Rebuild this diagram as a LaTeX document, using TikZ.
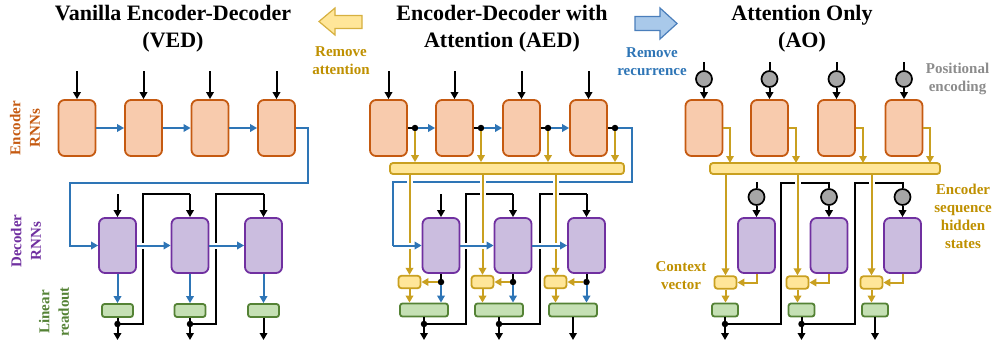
\documentclass[tikz,border=0pt]{standalone}
\usepackage{fontspec}
\setmainfont{Liberation Serif}
\usetikzlibrary{arrows.meta}
\definecolor{encF}{HTML}{F8CBAD}
\definecolor{encD}{HTML}{C55A11}
\definecolor{decF}{HTML}{CBBDDF}
\definecolor{decD}{HTML}{7030A0}
\definecolor{roF}{HTML}{C5E0B4}
\definecolor{roD}{HTML}{548235}
\definecolor{yF}{HTML}{FFE699}
\definecolor{yD}{HTML}{C9A020}
\definecolor{yT}{HTML}{BF9000}
\definecolor{bl}{HTML}{2E75B6}
\definecolor{blF}{HTML}{A9C9EA}
\definecolor{blD}{HTML}{4A7EBB}
\definecolor{yaD}{HTML}{D6B040}
\definecolor{peF}{HTML}{A6A6A6}
\definecolor{grT}{HTML}{8C8C8C}
\begin{document}
\begin{tikzpicture}[x=1pt,y=-1pt,
  box/.style={rectangle, line width=1.8pt, inner sep=0pt},
  encbox/.style={box, rounded corners=6pt, draw=encD, fill=encF, minimum width=37pt, minimum height=56pt},
  decbox/.style={box, rounded corners=6pt, draw=decD, fill=decF, minimum width=37pt, minimum height=55pt},
  robox/.style={box, rounded corners=2.5pt, draw=roD, fill=roF, minimum height=13pt},
  ctxbox/.style={box, rounded corners=3pt, draw=yD, fill=yF, minimum width=22pt, minimum height=12.5pt},
  barbox/.style={box, rounded corners=3pt, draw=yD, fill=yF, minimum height=11pt},
  pecirc/.style={circle, draw=black, fill=peF, line width=1.7pt, minimum size=16pt, inner sep=0pt},
  jdot/.style={circle, fill=black, minimum size=6.5pt, inner sep=0pt},
  conn/.style={line width=2pt},
  arr/.style={conn, -{Triangle[length=7pt,width=7.5pt]}},
  blk/.style={arr, draw=black},
  blu/.style={arr, draw=bl},
  yel/.style={arr, draw=yD},
  gap/.style={draw=white, line width=6pt, shorten <=4pt, shorten >=4pt},
  title/.style={align=center, font=\fontsize{22}{27}\selectfont\bfseries, inner sep=0pt},
  lbl/.style={align=center, font=\fontsize{15}{18}\selectfont\bfseries, inner sep=0pt},
  rlbl/.style={lbl, rotate=90, font=\fontsize{15}{19.5}\selectfont\bfseries}
]
\useasboundingbox (0,0) rectangle (992,343);

% ---------- titles and labels ----------
\node[title] (tved) at (173,29) {Vanilla Encoder-Decoder\\(VED)};
\node[title] (taed) at (502,29) {Encoder-Decoder with\\Attention (AED)};
\node[title] (tao) at (802,29) {Attention Only\\(AO)};
\node[lbl, text=yT] (lra) at (341,61) {Remove\\attention};
\node[lbl, text=bl] (lrr) at (652,62) {Remove\\recurrence};
\node[rlbl, text=encD] (lenc) at (25,128) {Encoder\\RNNs};
\node[rlbl, text=decD] (ldec) at (26,241) {Decoder\\RNNs};
\node[rlbl, text=roD] (llin) at (54,312) {Linear\\readout};
\node[lbl, text=grT] (lpos) at (957.5,79) {Positional\\encoding};
\node[lbl, text=yT] (lctx) at (681,275.5) {Context\\vector};
\node[lbl, text=yT] (lesh) at (963,216.5) {Encoder\\sequence\\hidden\\states};

% big arrows
\draw[line width=1.2pt, draw=yaD, fill=yF, line join=miter]
  (319,21.5) -- (335,8) -- (335,15.5) -- (362,15.5) -- (362,28.5) -- (335,28.5) -- (335,35) -- cycle;
\draw[line width=1.2pt, draw=blD, fill=blF, line join=miter]
  (677,23.5) -- (660,8) -- (660,16.5) -- (635,16.5) -- (635,30.5) -- (660,30.5) -- (660,39) -- cycle;

% ================= VED =================
\node[encbox] (ve1) at (77,128) {};
\node[encbox] (ve2) at (143.5,128) {};
\node[encbox] (ve3) at (210,128) {};
\node[encbox] (ve4) at (276.5,128) {};
\node[decbox] (vd1) at (117.5,245.5) {};
\node[decbox] (vd2) at (190,245.5) {};
\node[decbox] (vd3) at (263.5,245.5) {};
\node[robox, minimum width=31pt] (vr1) at (117.5,310.5) {};
\node[robox, minimum width=31pt] (vr2) at (190,310.5) {};
\node[robox, minimum width=31pt] (vr3) at (263.5,310.5) {};
\foreach \i/\x in {1/77,2/143.5,3/210,4/276.5} { \coordinate (vi\i) at (\x,71); }
\coordinate (vdi1) at (117.5,194);
\coordinate (vc1) at (308,183);
\coordinate (vc2) at (70,183);
\coordinate (vf1) at (143,194);
\coordinate (vf2) at (216,194);
\foreach \i/\x in {1/117.5,2/190,3/263.5} { \coordinate (vo\i) at (\x,340); }

% ================= AED =================
\node[encbox] (ae1) at (388.5,128) {};
\node[encbox] (ae2) at (454.5,128) {};
\node[encbox] (ae3) at (521.5,128) {};
\node[encbox] (ae4) at (588.5,128) {};
\node[barbox, minimum width=234pt] (abar) at (507,168.5) {};
\node[decbox] (ad1) at (441,245.5) {};
\node[decbox] (ad2) at (513,245.5) {};
\node[decbox] (ad3) at (586.5,245.5) {};
\node[ctxbox] (ax1) at (409.5,282) {};
\node[ctxbox] (ax2) at (482.5,282) {};
\node[ctxbox] (ax3) at (555.5,282) {};
\node[robox, minimum width=48pt] (ar1) at (424,310) {};
\node[robox, minimum width=48pt] (ar2) at (499,310) {};
\node[robox, minimum width=48pt] (ar3) at (573,310) {};
\foreach \i/\x in {1/388.5,2/454.5,3/521.5,4/588.5} { \coordinate (ai\i) at (\x,71); }
\coordinate (adi1) at (441,194);
\coordinate (ac1) at (632,182);
\coordinate (ac2) at (393,182);
\coordinate (ac3) at (393,245.5);
\coordinate (af1) at (466,194);
\coordinate (af2) at (540,194);
\foreach \i/\x in {1/424,2/499,3/573} { \coordinate (ao\i) at (\x,340); }

% ================= AO =================
\node[encbox] (oe1) at (704,128) {};
\node[encbox] (oe2) at (769.5,128) {};
\node[encbox] (oe3) at (836.5,128) {};
\node[encbox] (oe4) at (904,128) {};
\node[pecirc] (op1) at (704,79) {};
\node[pecirc] (op2) at (769.5,79) {};
\node[pecirc] (op3) at (836.5,79) {};
\node[pecirc] (op4) at (904,79) {};
\node[barbox, minimum width=230pt] (obar) at (825,168.5) {};
\node[pecirc] (oq1) at (756.5,197) {};
\node[pecirc] (oq2) at (829,197) {};
\node[pecirc] (oq3) at (902.5,197) {};
\node[decbox] (od1) at (756.5,245.5) {};
\node[decbox] (od2) at (829,245.5) {};
\node[decbox] (od3) at (902.5,245.5) {};
\node[ctxbox] (ox1) at (725.5,282.5) {};
\node[ctxbox] (ox2) at (797.5,282.5) {};
\node[ctxbox] (ox3) at (871.5,282.5) {};
\node[robox, minimum width=26pt] (or1) at (725,310) {};
\node[robox, minimum width=26pt] (or2) at (801.5,310) {};
\node[robox, minimum width=26pt] (or3) at (875,310) {};
\foreach \i/\x in {1/704,2/769.5,3/836.5,4/904} { \coordinate (oi\i) at (\x,62); }
\foreach \i/\x in {1/730,2/796,3/863,4/930} { \coordinate (oy\i) at (\x,163); }
\coordinate (oqi1) at (756.5,182);
\coordinate (of1) at (781,183);
\coordinate (of2) at (855,183);
\foreach \i/\x in {1/725,2/801.5,3/875} { \coordinate (oo\i) at (\x,340); }

% ================= connectors =================
% --- VED ---
\foreach \i in {1,2,3,4} { \draw[blk] (vi\i) -- (ve\i); }
\draw[blk] (vdi1) -- (vd1);
\draw[conn] (vr1.south) ++(0,6.5) -| (vf1) -- (vf1 -| vd2);
\draw[blk] (vf1 -| vd2) -- (vd2);
\draw[conn] (vr2.south) ++(0,6.5) -| (vf2) -- (vf2 -| vd3);
\draw[blk] (vf2 -| vd3) -- (vd3);
\draw[blu] (ve1) -- (ve2);
\draw[blu] (ve2) -- (ve3);
\draw[blu] (ve3) -- (ve4);
\draw[blu] (ve4.east) -| (vc1) -- (vc2) |- (vd1.west);
\draw[gap] (vd1) -- (vd2);
\draw[blu] (vd1) -- (vd2);
\draw[gap] (vd2) -- (vd3);
\draw[blu] (vd2) -- (vd3);
\foreach \i in {1,2,3} {
  \draw[blu] (vd\i) -- (vr\i);
  \draw[blk] (vr\i) -- (vo\i);
}
\node[jdot] (vj1) at (117.5,324) {};
\node[jdot] (vj2) at (190,324) {};
% --- AED ---
\foreach \i in {1,2,3,4} { \draw[blk] (ai\i) -- (ae\i); }
\draw[blk] (adi1) -- (ad1);
\draw[conn] (ar1.south) ++(0,7) -| (af1) -- (af1 -| ad2);
\draw[blk] (af1 -| ad2) -- (ad2);
\draw[conn] (ar2.south) ++(0,7) -| (af2) -- (af2 -| ad3);
\draw[blk] (af2 -| ad3) -- (ad3);
\draw[conn, draw=bl] (ae4.east) ++(8,0) -| (ac1) -- (ac2) -- (ac3);
\foreach \i in {1,2,3} {
  \draw[gap] (ax\i |- abar.south) -- (ax\i);
  \draw[yel] (ax\i |- abar.south) -- (ax\i);
}
\draw[gap] (ac3) -- (ad1.west);
\draw[blu] (ac3) -- (ad1.west);
\draw[gap] (ad1) -- (ad2);
\draw[blu] (ad1) -- (ad2);
\draw[gap] (ad2) -- (ad3);
\draw[blu] (ad2) -- (ad3);
% junction dots (drawn after lines)
\node[jdot] (aj1) at (415,128) {};
\node[jdot] (aj2) at (481,128) {};
\node[jdot] (aj3) at (548,128) {};
\node[jdot] (aj4) at (615,128) {};
\node[jdot] (adj1) at (441,282) {};
\node[jdot] (adj2) at (513,282) {};
\node[jdot] (adj3) at (586.5,282) {};
\foreach \i in {1,2,3,4} {
  \draw[conn] (ae\i) -- (aj\i);
  \draw[yel] (aj\i) -- (aj\i |- abar.north);
}
\draw[blu] (aj1) -- (ae2);
\draw[blu] (aj2) -- (ae3);
\draw[blu] (aj3) -- (ae4);
\foreach \i in {1,2,3} {
  \draw[conn] (ad\i) -- (adj\i);
  \draw[yel] (adj\i) -- (ax\i);
  \draw[blu] (adj\i) -- (adj\i |- ar\i.north);
  \draw[yel] (ax\i) -- (ax\i |- ar\i.north);
  \draw[blk] (ar\i) -- (ao\i);
}
\node[jdot] (arj1) at (424,324) {};
\node[jdot] (arj2) at (499,324) {};
% --- AO ---
\foreach \i in {1,2,3,4} {
  \draw[conn] (oi\i) -- (op\i);
  \draw[blk] (op\i) -- (oe\i);
  \draw[yel] (oe\i.east) -| (oy\i);
}
\draw[conn] (oqi1) -- (oq1);
\draw[conn] (or1.south) ++(0,7) -| (of1) -| (oq2.north);
\draw[conn] (or2.south) ++(0,7) -| (of2) -| (oq3.north);
\foreach \i in {1,2,3} {
  \draw[gap] (ox\i |- obar.south) -- (ox\i);
  \draw[yel] (ox\i |- obar.south) -- (ox\i);
  \draw[blk] (oq\i) -- (od\i);
  \draw[yel] (od\i.south) |- (ox\i.east);
  \draw[yel] (ox\i) -- (ox\i |- or\i.north);
  \draw[blk] (or\i) -- (oo\i);
}
\node[jdot] (orj1) at (725,324) {};
\node[jdot] (orj2) at (801.5,324) {};
\end{tikzpicture}
\end{document}
